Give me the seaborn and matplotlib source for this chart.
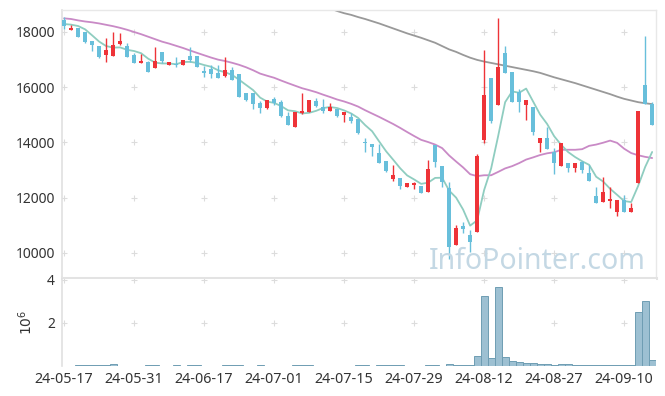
import numpy as np
import pandas as pd
import matplotlib
matplotlib.use("Agg")
import matplotlib.pyplot as plt
import seaborn as sns

# ---------------- data ----------------
opens = [18430, 18080, 18140, 18000, 17670, 17490, 17180, 17140, 17580, 17490,
         17170, 16890, 16910, 16710, 17260, 16820, 16830, 16820, 17120, 17130,
         16590, 16660, 16520, 16410, 16620, 16480, 15790, 15790, 15430, 15250,
         15570, 15480, 14960, 14560, 15070, 15100, 15500, 15280, 15140, 15210,
         15000, 14920, 14840, 13990, 13960, 13620, 13330, 12680, 12730, 12400,
         12470, 12420, 12210, 13920, 13150, 12340, 10300, 10970, 10650, 10770,
         14090, 16350, 15360, 17250, 16560, 15840, 15360, 15300, 13970, 14170,
         13670, 13160, 13270, 13090, 13300, 12880, 12060, 11860, 11890, 11480,
         11920, 11490, 12520, 16080, 15390]
highs = [18530, 18270, 18140, 18000, 17670, 17490, 17770, 17990, 17950, 17590,
         17230, 17190, 16950, 17440, 17260, 16930, 17080, 16970, 17440, 17130,
         16780, 16800, 16800, 17110, 16720, 16480, 15790, 15790, 15510, 15540,
         15650, 15540, 15090, 15100, 15800, 15540, 15600, 15570, 15420, 15210,
         15100, 15080, 14840, 14150, 13960, 13930, 13330, 13180, 12730, 12540,
         12580, 12420, 13350, 13920, 13150, 12560, 11020, 11140, 10830, 13580,
         17350, 16350, 18490, 17490, 16560, 15920, 15540, 15300, 14170, 14550,
         13790, 13970, 13270, 13270, 13340, 13200, 12380, 12740, 12380, 11920,
         12100, 11800, 15140, 17860, 15480]
lows = [18100, 18080, 17830, 17590, 17300, 17070, 16900, 17140, 17520, 17110,
        16870, 16890, 16560, 16710, 16870, 16790, 16740, 16820, 16930, 16740,
        16380, 16320, 16330, 16360, 16260, 15660, 15510, 15200, 15080, 15210,
        15370, 14930, 14630, 14560, 15020, 15100, 15280, 15080, 15140, 14930,
        14730, 14720, 14310, 13670, 13520, 13240, 12950, 12620, 12300, 12400,
        12300, 12180, 12210, 13120, 12400, 9770, 10300, 10710, 10020, 10770,
        13970, 14690, 15360, 16530, 15480, 15110, 14810, 14270, 13670, 13780,
        12850, 13160, 12920, 12940, 12880, 12620, 11820, 11860, 11620, 11340,
        11490, 11490, 12520, 15380, 14630]
closes = [18230, 18160, 17830, 17640, 17540, 17110, 17350, 17540, 17670, 17110,
          16890, 16950, 16560, 16950, 16950, 16900, 16790, 16970, 16990, 16740,
          16530, 16480, 16330, 16620, 16260, 15660, 15540, 15410, 15260, 15540,
          15430, 14960, 14630, 15100, 15140, 15540, 15320, 15140, 15280, 14960,
          15100, 14780, 14330, 13980, 13850, 13270, 12980, 12820, 12440, 12540,
          12530, 12180, 13040, 13290, 12580, 10200, 10900, 10880, 10400, 13520,
          15720, 14780, 16740, 16530, 15480, 15480, 15540, 14390, 14170, 13780,
          13270, 13970, 13090, 13270, 13010, 12620, 11820, 12220, 11950, 11920,
          11490, 11640, 15140, 15380, 14630]
volumes = [5000, 5000, 30000, 30000, 30000, 30000, 30000, 80000, 5000, 5000,
           5000, 5000, 30000, 30000, 5000, 5000, 30000, 5000, 30000, 30000,
           5000, 5000, 5000, 30000, 30000, 30000, 5000, 5000, 30000, 5000,
           5000, 5000, 5000, 30000, 30000, 30000, 5000, 5000, 5000, 5000,
           5000, 5000, 30000, 30000, 5000, 30000, 30000, 30000, 30000, 5000,
           5000, 5000, 30000, 30000, 5000, 106000, 30000, 30000, 30000, 480000,
           3260000, 380000, 3670000, 420000, 210000, 170000, 120000, 120000, 80000, 80000,
           30000, 80000, 80000, 35000, 35000, 35000, 35000, 35000, 35000, 35000,
           35000, 35000, 2480000, 3030000, 260000]
ma5 = [18290, 18265, 18217, 18096, 17879, 17654, 17492, 17435, 17442, 17355,
       17311, 17232, 17036, 16891, 16860, 16862, 16831, 16913, 16920, 16879,
       16804, 16742, 16614, 16542, 16445, 16271, 16083, 15897, 15625, 15480,
       15434, 15318, 15163, 15132, 15052, 15074, 15146, 15248, 15284, 15248,
       15161, 15052, 14890, 14630, 14407, 14040, 13681, 13379, 13070, 12809,
       12662, 12503, 12546, 12718, 12725, 12259, 12003, 11571, 10991, 11180,
       12280, 13060, 14230, 15460, 15849, 15800, 15952, 15482, 15011, 14670,
       14229, 13915, 13654, 13473, 13321, 13191, 12761, 12587, 12324, 12104,
       11880, 11844, 12428, 13113, 13657]
ma20 = [18494, 18470, 18420, 18380, 18350, 18310, 18260, 18210, 18150, 18080,
        18000, 17920, 17830, 17740, 17650, 17580, 17500, 17420, 17330, 17243,
        17158, 17074, 16999, 16949, 16885, 16812, 16722, 16615, 16494, 16416,
        16343, 16243, 16147, 16055, 15964, 15896, 15822, 15731, 15646, 15556,
        15485, 15400, 15300, 15168, 15047, 14927, 14799, 14670, 14529, 14379,
        14234, 14096, 14016, 13925, 13797, 13531, 13310, 13097, 12852, 12783,
        12814, 12814, 12935, 13062, 13144, 13254, 13382, 13461, 13547, 13609,
        13646, 13735, 13737, 13736, 13758, 13879, 13925, 13992, 14069, 13986,
        13775, 13618, 13538, 13480, 13438]
ma120 = [np.nan] * 36 + [
        19050, 18950, 18850, 18760, 18680, 18620, 18540, 18470, 18390, 18310,
        18220, 18130, 18040, 17950, 17870, 17790, 17700, 17610, 17490, 17370,
        17280, 17170, 17070, 16990, 16930, 16880, 16830, 16780, 16730, 16680,
        16630, 16580, 16520, 16440, 16360, 16290, 16220, 16150, 16070, 15990,
        15910, 15830, 15750, 15660, 15580, 15520, 15460, 15420, 15390]
tick_labels = ["24-05-17", "24-05-31", "24-06-17", "24-07-01", "24-07-15",
               "24-07-29", "24-08-12", "24-08-27", "24-09-10"]
price_ticks = [10000, 12000, 14000, 16000, 18000]
vol_ticks = [2, 4]

# ---------------- styling ----------------
sns.set_theme(style="white")
plt.rcParams['font.family'] = ['Noto Sans', 'DejaVu Sans']
TXT = "#333333"
RED = "#ee3338"
BLUE = "#68bfdb"
GRIDC = "#dcdcdc"

df = pd.DataFrame({"idx": np.arange(len(closes)), "open": opens, "high": highs,
                   "low": lows, "close": closes, "vol": np.array(volumes) / 1e6,
                   "ma5": ma5, "ma20": ma20, "ma120": ma120})

W, H = 665, 396
fig = plt.figure(figsize=(W / 100, H / 100), dpi=100)
ax = fig.add_axes([62 / W, 1 - 278 / H, (656 - 62) / W, (278 - 10) / H])
axv = fig.add_axes([62 / W, 1 - 366 / H, (656 - 62) / W, (366 - 279) / H])

# grid crosses
xt = list(range(0, 10 * len(tick_labels), 10))
for xx in xt:
    for yy in price_ticks:
        ax.plot(xx, yy, marker="+", ms=5, mew=0.8, color=GRIDC, zorder=0)
    for yy in vol_ticks:
        axv.plot(xx, yy, marker="+", ms=5, mew=0.8, color=GRIDC, zorder=0)

# watermark
fig.text(429 / W, 1 - 269 / H, "InfoPointer.com", fontsize=20.5,
         color="#c4d8e4", ha="left", va="baseline", zorder=1)

# moving averages
sns.lineplot(data=df, x="idx", y="ma120", ax=ax, color="#999999", lw=1.3, zorder=2)
sns.lineplot(data=df, x="idx", y="ma20", ax=ax, color="#c98ac6", lw=1.3, zorder=2)
sns.lineplot(data=df, x="idx", y="ma5", ax=ax, color="#8fcdc0", lw=1.3, zorder=2)

# candles
up = df["close"] >= df["open"]
cols = np.where(up, RED, BLUE)
ax.vlines(df["idx"], df["low"], df["high"], colors=cols, lw=1.0, zorder=3)
body_low = np.minimum(df["open"], df["close"])
body_h = np.maximum(np.abs(df["close"] - df["open"]), 40)
ax.bar(df["idx"], body_h, bottom=body_low, width=0.62, color=cols, lw=0, zorder=4)

ax.set_xlim(-0.3, 84.55)
ax.set_ylim(9095, 18796)
ax.set_yticks(price_ticks)
ax.set_yticklabels([str(v) for v in price_ticks])
ax.set_xticks(xt)
ax.set_xticklabels([])
ax.tick_params(axis="both", length=0, labelsize=10, colors=TXT, pad=5)
ax.set_xlabel("")
ax.set_ylabel("")
ax.patch.set_alpha(0)
for s in ["top", "right"]:
    ax.spines[s].set_color("#e8e8e8")
    ax.spines[s].set_linewidth(1.0)
ax.spines["left"].set_color("#e0e0e0")
ax.spines["left"].set_linewidth(1.2)
ax.spines["bottom"].set_color("#e3e3e3")
ax.spines["bottom"].set_linewidth(2.2)

# volume
axv.bar(df["idx"], df["vol"], width=1.0, color="#9dc0d2", edgecolor="#6f9db3",
        lw=0.7, zorder=3)
axv.set_xlim(-0.3, 84.55)
axv.set_ylim(0, 4.03)
axv.set_yticks(vol_ticks)
axv.set_yticklabels([str(v) for v in vol_ticks])
axv.set_xticks(xt)
axv.set_xticklabels(tick_labels)
axv.tick_params(axis="both", length=0, labelsize=10.3, colors=TXT)
axv.tick_params(axis="y", pad=5, labelsize=10)
axv.tick_params(axis="x", pad=4)
axv.set_ylabel(r"$10^6$", fontsize=10, color=TXT, labelpad=8)
axv.set_xlabel("")
for s in ["top", "right", "bottom"]:
    axv.spines[s].set_visible(False)
axv.spines["left"].set_color("#e0e0e0")
axv.spines["left"].set_linewidth(1.2)

fig.savefig("out.png", dpi=100, facecolor="white")
